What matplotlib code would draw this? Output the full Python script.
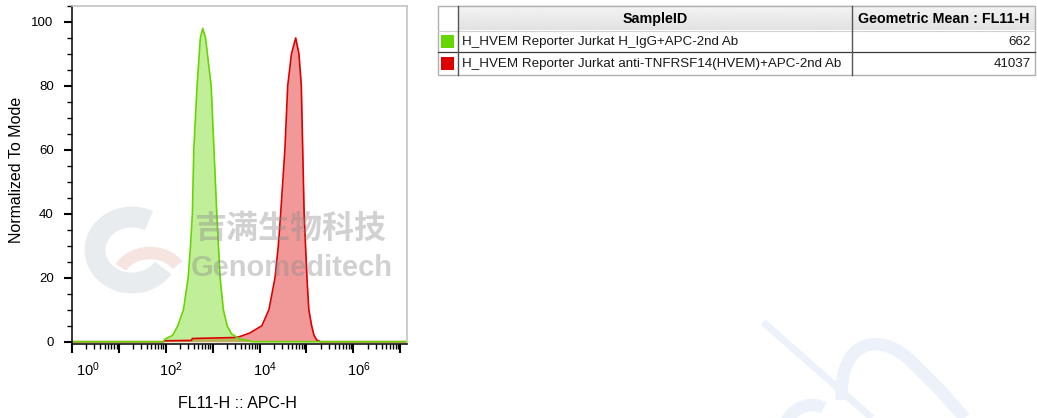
import matplotlib
matplotlib.use("Agg")
import matplotlib.pyplot as plt
import matplotlib.transforms as mtransforms
from matplotlib.patches import Rectangle, Arc, PathPatch
from matplotlib.path import Path
from matplotlib.ticker import FixedLocator, LogLocator, MultipleLocator, NullFormatter, FuncFormatter
import numpy as np

plt.rcParams["font.family"] = ["Liberation Sans", "DejaVu Sans"]
plt.rcParams["mathtext.fontset"] = "custom"
plt.rcParams["mathtext.rm"] = "Liberation Sans"

# histogram outlines: log10(FL11-H) vs % of mode
igg_log = [0.0, 1.95, 1.985, 2.15, 2.26, 2.38, 2.48, 2.53, 2.57, 2.60, 2.67, 2.74, 2.79,
           2.85, 2.97, 3.03, 3.09, 3.16, 3.23, 3.31, 3.40, 3.58, 3.75, 3.85, 7.13]
igg_pct = [0, 0, 0.8, 2, 5, 10, 20, 30, 40, 60, 80, 95, 98,
           95, 80, 60, 40, 20, 10, 5, 2.5, 0.8, 0.4, 0, 0]

hvem_log = [0.0, 1.95, 1.99, 2.55, 2.57, 3.45, 3.58, 3.79, 4.05, 4.20, 4.33, 4.40, 4.45,
            4.54, 4.60, 4.68, 4.77, 4.84, 4.89, 4.92, 4.95, 4.98, 5.01, 5.05, 5.11,
            5.16, 5.22, 5.30, 7.13]
hvem_pct = [0, 0, 0.3, 0.4, 1.0, 1.3, 1.6, 2.7, 5, 10, 20, 30, 40,
            60, 80, 90, 95, 90, 80, 60, 40, 30, 20, 10, 5,
            2, 0.5, 0, 0]

sample_ids = ["H_HVEM Reporter Jurkat H_IgG+APC-2nd Ab",
              "H_HVEM Reporter Jurkat anti-TNFRSF14(HVEM)+APC-2nd Ab"]
geo_means = [662, 41037]
sample_colors = ["#66d600", "#dd0000"]
label_exps = [0, 2, 4, 6]
y_ticks = [0, 20, 40, 60, 80, 100]

W, H = 1037, 418
fig = plt.figure(figsize=(W / 100, H / 100), dpi=100)

# main histogram axes, placed in pixel terms
left, right, top, bottom = 71.7, 406.5, 6.0, 343.5
ax = fig.add_axes([left / W, (H - bottom) / H, (right - left) / W, (bottom - top) / H])
ax.set_xscale("log")
ax.set_xlim(1, 10 ** 7.13)
ax.set_ylim(-0.56, 105)

series = [(hvem_log, hvem_pct, sample_colors[1]), (igg_log, igg_pct, sample_colors[0])]
for lg, pct, col in series:
    xs = 10 ** np.asarray(lg)
    ax.fill_between(xs, pct, 0, color=col, alpha=0.4, lw=0)
    ax.plot(xs, pct, color=col, lw=1.2)

for side in ["top", "right"]:
    ax.spines[side].set_color("#c4c4c4")
    ax.spines[side].set_linewidth(1.2)
for side in ["left", "bottom"]:
    ax.spines[side].set_color("black")
    ax.spines[side].set_linewidth(1.1)

ax.yaxis.set_major_locator(FixedLocator(y_ticks))
ax.yaxis.set_minor_locator(MultipleLocator(5))
ax.tick_params(axis="y", which="major", length=6, width=1.5, pad=7, labelsize=9.5)
ax.tick_params(axis="y", which="minor", length=3.5, width=1)

ax.xaxis.set_major_locator(FixedLocator([10.0 ** e for e in range(8)]))
ax.xaxis.set_minor_locator(LogLocator(base=10, subs=range(2, 10), numticks=20))
ax.xaxis.set_minor_formatter(NullFormatter())
ax.xaxis.set_major_formatter(FuncFormatter(
    lambda v, p: r"$\mathregular{10^{%d}}$" % round(np.log10(v))
    if round(np.log10(v)) in label_exps else ""))
ax.tick_params(axis="x", which="major", length=6.5, width=1.5, pad=6, labelsize=10.5)
ax.tick_params(axis="x", which="minor", length=3.5, width=1)

# FlowJo puts the decade labels slightly right of the ticks
for i, lab in enumerate(ax.get_xticklabels()):
    dx = 16 if i == 0 else 5
    lab.set_transform(lab.get_transform() + mtransforms.ScaledTranslation(dx / 100, 0, fig.dpi_scale_trans))

fig.text(237 / W, 1 - 404 / H, "FL11-H :: APC-H", ha="center", va="center", fontsize=11.5)
fig.text(16.5 / W, 1 - 170 / H, "Normalized To Mode", ha="center", va="center",
         rotation=90, fontsize=11.5)

# overlay in pixel coordinates for table and watermarks
ov = fig.add_axes([0, 0, 1, 1], zorder=5)
ov.set_xlim(0, W)
ov.set_ylim(H, 0)
ov.axis("off")

# watermark logo + text
ov.add_patch(Arc((132, 250), 74, 66, theta1=30, theta2=300, lw=15, color="#dde2e6", alpha=0.65))
ov.add_patch(Arc((150, 278), 64, 50, theta1=200, theta2=335, lw=9, color="#f0d3ce", alpha=0.6))
ov.text(290, 229, "吉满生物科技", ha="center", va="center", fontsize=23, fontweight="bold",
        family=["Noto Sans CJK SC", "DejaVu Sans"], color="#8c8c8c", alpha=0.4)
ov.text(292, 268, "Genomeditech", ha="center", va="center", fontsize=21, fontweight="bold",
        color="#8c8c8c", alpha=0.4)

# faint blue strokes at bottom right
deco = "#edf1f9"
ov.plot([763, 872], [322, 418], color=deco, lw=5, solid_capstyle="butt")
arch = Path([(842, 400), (838, 340), (880, 330), (912, 362), (940, 390), (965, 418)],
            [Path.MOVETO, Path.CURVE4, Path.CURVE4, Path.CURVE4, Path.LINETO, Path.LINETO])
ov.add_patch(PathPatch(arch, fill=False, ec=deco, lw=9))
ov.add_patch(Arc((812, 440), 60, 70, theta1=200, theta2=290, lw=9, color=deco))

# sample table
tx0, tx1 = 437.5, 1035
c1, c2 = 458, 851.7
ry = [5.7, 30.5, 51.7, 75]
grad = np.linspace(0.955, 0.885, 30).reshape(-1, 1)
ov.imshow(grad, cmap="gray", vmin=0, vmax=1, extent=[c1, tx1, ry[1], ry[0]], aspect="auto")
ov.set_xlim(0, W)
ov.set_ylim(H, 0)
ov.add_patch(Rectangle((tx0, ry[0]), tx1 - tx0, ry[3] - ry[0], fill=False, ec="#b0b0b0", lw=1))
ov.plot([tx0, tx1], [ry[1], ry[1]], color="#d0d0d0", lw=0.8)
ov.plot([tx0, tx1], [ry[2], ry[2]], color="#3a3a3a", lw=0.9)
ov.plot([c1, c1], [ry[0], ry[3]], color="#555555", lw=1)
ov.plot([c2, c2], [ry[0], ry[3]], color="#555555", lw=1)
ov.text((c1 + c2) / 2, (ry[0] + ry[1]) / 2 + 0.5, "SampleID", ha="center", va="center",
        fontsize=10.3, fontweight="bold")
ov.text((c2 + tx1) / 2, (ry[0] + ry[1]) / 2 + 0.5, "Geometric Mean : FL11-H", ha="center",
        va="center", fontsize=10.3, fontweight="bold")
for i, (sid, gm, col) in enumerate(zip(sample_ids, geo_means, sample_colors)):
    ya, yb = ry[i + 1], ry[i + 2]
    yc = (ya + yb) / 2
    ov.add_patch(Rectangle((441, yc - 6.5), 13, 13, fc=col, ec="none"))
    ov.text(462, yc + 0.5, sid, ha="left", va="center", fontsize=9.6, color="#1a1a1a")
    ov.text(1031, yc + 0.5, str(gm), ha="right", va="center", fontsize=9.6, color="#1a1a1a")

fig.savefig("out.png", dpi=100)
